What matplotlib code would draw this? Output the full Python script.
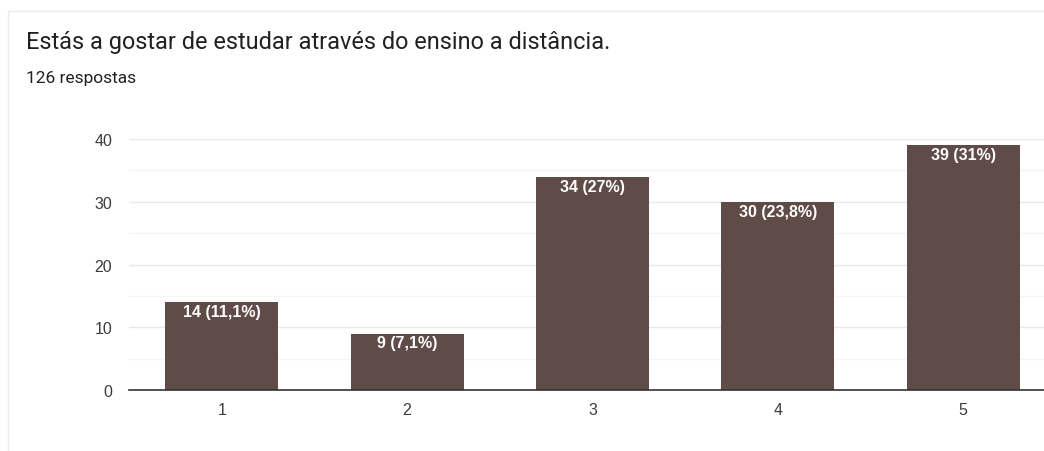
import matplotlib
matplotlib.use('Agg')
import matplotlib.pyplot as plt
from matplotlib.patches import Rectangle

#%% data

categorias=['1','2','3','4','5']
respostas=[14,9,34,30,39]
rotulos=['14 (11,1%)','9 (7,1%)','34 (27%)','30 (23,8%)','39 (31%)']
titulo='Estás a gostar de estudar através do ensino a distância.'
subtitulo='126 respostas'

#%% figure

fig=plt.figure(figsize=(10.44,4.52),dpi=100)
fig.patch.set_facecolor('white')

# card border
fig.add_artist(Rectangle((8/1044,-0.1),1.2,(452-12)/452+0.1,transform=fig.transFigure,
                         fill=False,edgecolor='#ececec',linewidth=1))

fig.text(26/1044,1-42/452,titulo,fontsize=16.9,family='Roboto',color='#212121',va='center')
fig.text(26/1044,1-79/452,subtitulo,fontsize=12.5,family='Roboto',color='#212121',va='center')

ax=fig.add_axes([129/1044,(452-391)/452,(1056-129)/1044,251/452])
x=list(range(len(categorias)))
ax.bar(x,respostas,width=0.61,color='#5f4b48',zorder=3)

for xi,v,lab in zip(x,respostas,rotulos):
    ax.text(xi,v-0.3,lab,ha='center',va='top',color='white',fontsize=11.5,
            fontweight='bold',family='Liberation Sans',zorder=4)

ax.set_xlim(-0.5,4.5)
ax.set_ylim(0,40)
ax.set_yticks([0,10,20,30,40])
ax.set_yticks([5,15,25,35],minor=True)
ax.set_xticks(x)
ax.set_xticklabels(categorias)
ax.grid(axis='y',which='major',color='#e8e8e8',linewidth=1,zorder=0)
ax.grid(axis='y',which='minor',color='#f5f5f5',linewidth=1,zorder=0)
ax.tick_params(which='both',length=0)
ax.tick_params(axis='y',pad=12)
ax.tick_params(axis='x',pad=9)
for t in ax.get_xticklabels()+ax.get_yticklabels():
    t.set_family('Liberation Sans')
    t.set_fontsize(11.5)
    t.set_color('#3c3c3c')
for s in ['top','right','left']:
    ax.spines[s].set_visible(False)
ax.spines['bottom'].set_color('#333333')
ax.spines['bottom'].set_linewidth(1.2)
ax.spines['bottom'].set_zorder(5)

fig.savefig('out.png',dpi=100)
